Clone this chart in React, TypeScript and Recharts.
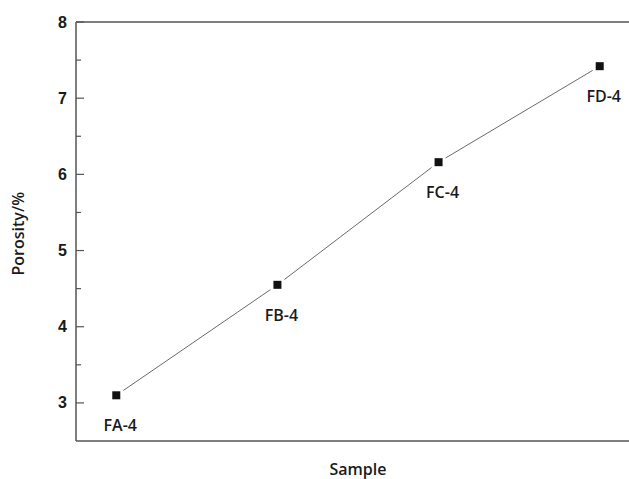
import React from "react";
import {
  LineChart,
  Line,
  XAxis,
  YAxis,
  ReferenceLine,
  LabelList,
} from "recharts";

const samples = ["FA-4", "FB-4", "FC-4", "FD-4"];
const positions = [1, 2, 3, 4];
const porosity = [3.1, 4.55, 6.16, 7.42];
const yTicks = [3, 3.5, 4, 4.5, 5, 5.5, 6, 6.5, 7, 7.5, 8];

const data = samples.map((name, i) => ({
  name,
  x: positions[i],
  porosity: porosity[i],
}));

const AXIS = "#555";
const INK = "#1a1a1a";
const LABEL_FONT = "'Open Sans', 'Noto Sans', sans-serif";

function YTick(props: any) {
  const { x, y, payload } = props;
  const v = payload.value as number;
  const major = Number.isInteger(v);
  // ticks point inward, into the plot
  const axisX = x + 8;
  return (
    <g>
      <line
        x1={axisX}
        x2={axisX + (major ? 8 : 5)}
        y1={y}
        y2={y}
        stroke={AXIS}
        strokeWidth={1.2}
      />
      {major && (
        <text
          x={axisX - 9}
          y={y}
          dy={5.5}
          textAnchor="end"
          fontSize={16}
          fontWeight="bold"
          fontFamily="'Liberation Sans', Arial, sans-serif"
          fill={INK}
        >
          {v}
        </text>
      )}
    </g>
  );
}

function SquareDot(props: any) {
  const { cx, cy } = props;
  if (cx == null || cy == null) return null;
  return (
    <g>
      <rect x={cx - 7} y={cy - 7} width={14} height={14} fill="#fff" />
      <rect x={cx - 4} y={cy - 4} width={8} height={8} fill="#111" />
    </g>
  );
}

function SampleLabel(props: any) {
  const { x, y, value } = props;
  return (
    <text
      x={x + 4}
      y={y + 36}
      textAnchor="middle"
      fontSize={16}
      fontWeight={600}
      fontFamily={LABEL_FONT}
      fill={INK}
    >
      {value}
    </text>
  );
}

export default function App() {
  return (
    <div
      style={{
        position: "absolute",
        left: 0,
        top: 0,
        width: 629,
        height: 479,
        overflow: "hidden",
        background: "#fff",
      }}
    >
      <LineChart
        width={640}
        height={479}
        data={data}
        margin={{ top: 22, right: 0, bottom: 0, left: 0 }}
      >
        <XAxis
          dataKey="x"
          type="number"
          domain={[0.75, 4.25]}
          tick={false}
          tickLine={false}
          axisLine={{ stroke: AXIS, strokeWidth: 1.5 }}
          height={38}
          label={{
            value: "Sample",
            position: "insideBottom",
            offset: 4,
            fontSize: 16,
            fontWeight: 600,
            fontFamily: LABEL_FONT,
            fill: INK,
          }}
        />
        <YAxis
          type="number"
          domain={[2.5, 8]}
          ticks={yTicks}
          interval={0}
          width={76}
          tickLine={false}
          tick={<YTick />}
          axisLine={{ stroke: AXIS, strokeWidth: 1.5 }}
          label={{
            value: "Porosity/%",
            angle: -90,
            position: "insideLeft",
            offset: 18,
            dy: 44,
            fontSize: 16,
            fontWeight: 600,
            fontFamily: LABEL_FONT,
            fill: INK,
          }}
        />
        <ReferenceLine y={8} stroke={AXIS} strokeWidth={1.5} />
        <Line
          type="linear"
          dataKey="porosity"
          stroke="#444"
          strokeWidth={0.8}
          dot={<SquareDot />}
          activeDot={false}
          isAnimationActive={false}
        >
          <LabelList dataKey="name" content={<SampleLabel />} />
        </Line>
      </LineChart>
    </div>
  );
}
